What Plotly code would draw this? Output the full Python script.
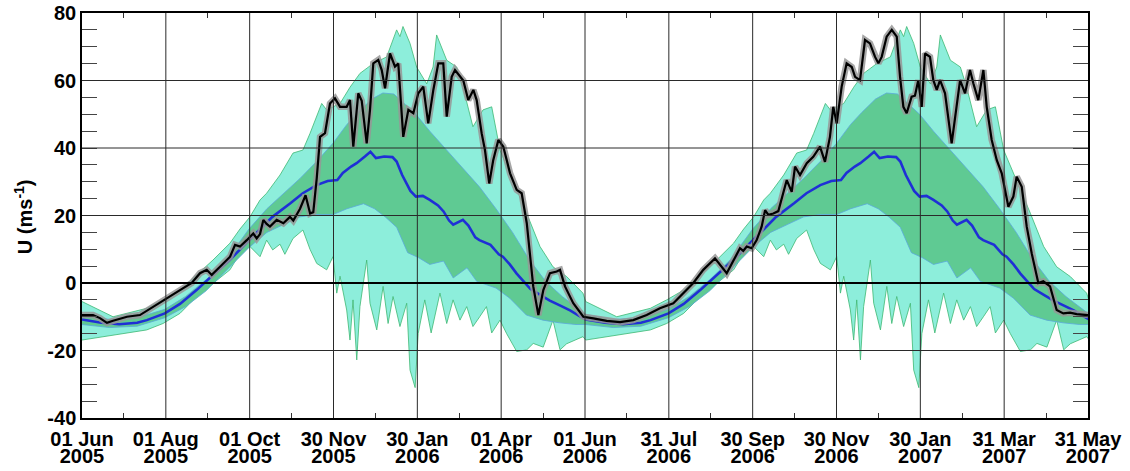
import plotly.graph_objects as go

# ---------------- data ----------------
# x positions are days since 01 Jun 2005
tick_labels = ["01 Jun", "01 Aug", "01 Oct", "30 Nov", "30 Jan", "01 Apr", "01 Jun",
               "31 Jul", "30 Sep", "30 Nov", "30 Jan", "31 Mar", "31 May"]
tick_years = ["2005", "2005", "2005", "2005", "2006", "2006", "2006",
              "2006", "2006", "2006", "2007", "2007", "2007"]
total_days = 729
year_len = 365

# climatology (one annual cycle, repeated for each year)
mean_days = [0, 14, 27, 40, 47, 60, 71, 83, 95, 107, 119, 128, 138, 151, 160, 170, 178, 185,
             189, 195, 199, 205, 209, 213, 219, 225, 228, 232, 238, 242, 247, 252, 258, 262,
             266, 269, 273, 276, 280, 285, 288, 296, 302, 305, 310, 315, 320, 325, 332, 339,
             347, 354, 360, 365]
mean_vals = [-10.8, -11.8, -12.2, -11.8, -11.0, -9.0, -6.2, -2.1, 2.4, 6.8, 11.8, 15.5, 19.6,
             23.6, 26.6, 29.0, 30.2, 30.5, 32.6, 34.5, 35.5, 37.5, 38.9, 37.0, 37.5, 37.3,
             36.0, 32.0, 27.3, 25.6, 25.8, 24.6, 23.0, 21.2, 18.5, 17.3, 18.2, 18.7, 17.0,
             13.5, 12.7, 11.3, 8.5, 7.8, 5.5, 2.8, 0.5, -1.8, -3.5, -5.2, -6.8, -8.2, -9.7,
             -10.8]

inner_hi_days = [0, 20, 40, 60, 75, 90, 105, 121, 134, 146, 158, 170, 182, 192, 200, 210, 218,
                 226, 234, 242, 252, 264, 276, 288, 300, 312, 324, 336, 348, 358, 365]
inner_hi_vals = [-9.3, -10.8, -10.3, -7.8, -4.0, 1.0, 7.0, 16.0, 22.0, 26.5, 31.0, 36.0, 41.5,
                 47.0, 50.5, 54.5, 56.3, 56.0, 53.0, 50.0, 45.0, 39.5, 34.0, 28.5, 22.0, 15.0,
                 7.0, 0.5, -4.0, -7.0, -9.3]

inner_lo_days = [0, 20, 40, 60, 75, 90, 105, 121, 134, 146, 158, 170, 182, 192, 204, 212, 220,
                 228, 236, 244, 252, 262, 269, 279, 286, 300, 310, 322, 334, 346, 358, 365]
inner_lo_vals = [-12.3, -13.2, -12.8, -10.3, -7.0, -2.3, 4.0, 10.5, 15.0, 17.3, 19.6, 20.3,
                 20.3, 22.0, 23.5, 22.0, 19.5, 16.5, 9.0, 7.5, 5.5, 6.5, 1.5, 4.5, 0.5, -1.5,
                 -4.5, -9.5, -11.0, -11.8, -12.3, -12.3]

outer_hi_days = [0, 22.5, 46.9, 58.7, 71, 83.1, 94.9, 107.2, 114.5, 121.7, 129, 133.8, 143.5,
                 152.9, 160.1, 165.2, 170.1, 173.7, 177.3, 187, 194.2, 201.4, 210.9, 220.8,
                 228, 230.4, 232.6, 237.7, 242.5, 249.8, 254.4, 257, 264.3, 271.5, 276.1,
                 283.3, 290.6, 296.9, 302.9, 312.3, 322.3, 331.9, 341.3, 351.2, 363, 365]
outer_hi_vals = [-5.5, -10.0, -7.5, -5.0, -2.1, 2.4, 6.8, 11.8, 16.0, 19.6, 24.6, 26.6, 32.0,
                 38.5, 39.4, 44.3, 49.3, 53.2, 51.3, 53.2, 58.0, 62.1, 65.0, 67.0, 75.0, 73.0,
                 76.0, 71.0, 64.0, 59.0, 64.0, 73.5, 66.0, 64.0, 58.0, 46.3, 51.3, 52.2, 39.4,
                 30.5, 20.6, 10.8, 4.8, 1.9, -3.0, -5.5]

outer_lo_days = [0, 22.5, 46.9, 58.7, 71, 83.1, 94.9, 107.2, 114.5, 121.7, 129, 133.8, 138.2,
                 143.5, 147, 152.9, 160.1, 165.2, 170.1, 177.3, 181.9, 184.6, 187, 191.8,
                 194.2, 196.4, 199.1, 201.4, 206.3, 208.7, 213.6, 218.2, 221.8, 225.4, 230.4,
                 235.3, 237.7, 241.4, 243.6, 248.4, 253, 259.4, 264.3, 268.9, 273.9, 278.8,
                 283.3, 288.2, 293.1, 296.9, 302.9, 307.7, 315, 322.3, 327, 334.2, 341.3,
                 346.4, 351.2, 363, 365]
outer_lo_vals = [-16.9, -15.4, -13.9, -12.0, -9.0, -4.0, 0.0, 3.9, 8.8, 10.8, 7.8, 12.7, 9.8,
                 11.5, 8.5, 13.2, 15.7, 10.0, 5.8, 3.9, 7.8, -3.0, 2.0, -8.0, -16.9, -5.0,
                 -22.8, -7.0, 6.8, -6.0, -13.9, -1.0, -12.0, -4.0, -12.9, -6.0, -25.8, -31.0,
                 -15.0, -5.0, -14.8, -3.0, -12.0, -5.0, -11.0, -7.0, -12.9, -10.0, -7.0,
                 -14.8, -11.0, -15.0, -20.3, -19.8, -17.9, -19.0, -11.0, -19.8, -18.0, -15.9,
                 -16.9]

# observed 2005-2007
obs_days = [0, 8.0, 13.0, 18.1, 22.5, 32.6, 42.0, 51.5, 61.6, 71.0, 79.5, 85.5, 90.4, 94.0,
            100.0, 107.3, 110.9, 114.5, 119.4, 124.1, 126.6, 129.0, 131.4, 133.8, 136.2,
            141.1, 145.9, 150.7, 153.1, 158.0, 162.0, 165.3, 167.6, 170.1, 172.5, 176.1,
            179.7, 183.3, 187.0, 191.8, 194.2, 196.6, 200.2, 202.7, 206.3, 208.7, 211.1,
            214.7, 217.2, 219.6, 223.2, 226.8, 229.2, 232.8, 236.5, 240.1, 243.7, 247.3,
            250.9, 254.6, 258.2, 261.8, 264.3, 267.9, 270.3, 273.9, 276.3, 279.9, 283.6,
            286.0, 289.6, 292.0, 295.1, 298.0, 301.7, 305.3, 310.2, 315.0, 318.6, 322.3,
            327.0, 330.7, 334.3, 339.1, 344.0, 346.4, 350.0, 356.0, 363.3, 370.5, 380.2,
            389.9, 399.5, 409.2, 418.8, 428.5, 435.7, 443.0, 450.2, 455.1, 458.7, 467.2,
            472.0, 476.8, 479.2, 481.7, 485.3, 488.9, 492.5, 495.0, 497.3, 501.0, 504.6,
            508.2, 510.7, 514.3, 516.7, 520.3, 525.2, 529.9, 534.8, 538.4, 542.0, 544.4,
            546.9, 550.5, 554.1, 557.8, 560.2, 563.8, 567.4, 571.0, 574.7, 577.1, 579.5,
            583.1, 586.8, 590.4, 592.8, 595.2, 597.6, 601.2, 603.6, 606.0, 608.5, 610.9,
            614.5, 616.9, 619.4, 621.8, 625.4, 630.2, 633.9, 636.3, 639.9, 643.5, 645.9,
            649.5, 653.2, 655.6, 659.2, 662.9, 666.5, 671.3, 674.9, 677.3, 681.0, 684.6,
            688.2, 693.0, 696.6, 701.5, 706.3, 711.1, 716.0, 720.8, 729]
obs_vals = [-9.5, -9.5, -10.4, -11.8, -11.2, -10.0, -9.5, -7.0, -4.5, -2.1, 0.0, 2.9, 3.9,
            2.4, 4.8, 7.8, 11.3, 10.8, 12.7, 14.7, 13.2, 14.5, 18.7, 17.5, 16.7, 18.7, 17.7,
            19.6, 18.5, 22.0, 26.0, 20.6, 21.0, 31.0, 43.3, 44.4, 53.2, 54.7, 52.2, 52.2,
            54.2, 40.4, 56.2, 54.0, 41.4, 51.3, 65.1, 66.1, 63.1, 57.7, 68.0, 64.1, 65.0,
            43.3, 51.3, 50.3, 56.2, 58.2, 47.3, 57.2, 65.1, 65.1, 49.3, 61.1, 63.1, 61.1,
            60.0, 54.2, 57.2, 54.2, 44.4, 39.4, 29.5, 36.4, 42.4, 40.4, 32.5, 27.6, 26.6,
            17.7, -1.0, -9.5, -2.1, 2.9, 3.4, 3.9, -1.0, -6.0, -10.0, -10.5, -11.2, -11.6,
            -11.0, -9.5, -7.5, -6.0, -3.0, 0.0, 3.9, 5.8, 7.3, 2.9, 6.8, 10.3, 9.5, 10.8,
            10.3, 12.7, 16.7, 21.6, 20.2, 20.6, 21.3, 27.0, 30.5, 27.0, 34.5, 32.0, 35.5,
            37.4, 40.4, 35.9, 43.3, 52.2, 47.3, 58.2, 65.1, 64.0, 61.1, 60.1, 72.0, 71.0,
            67.0, 65.1, 67.0, 73.0, 75.0, 73.0, 61.1, 52.2, 50.3, 55.2, 55.5, 60.1, 52.2,
            68.0, 67.0, 60.1, 57.2, 60.1, 56.2, 41.4, 53.2, 60.1, 56.2, 63.1, 59.2, 54.2,
            63.1, 52.2, 42.4, 36.4, 32.5, 22.6, 25.6, 31.5, 28.5, 16.7, 8.8, 0.0, 0.5, -1.0,
            -8.0, -9.0, -8.8, -9.2, -9.5]

y_range = [-40, 80]
y_major = [-40, -20, 0, 20, 40, 60, 80]

# ---------------- helpers ----------------
def two_years(days, vals):
    d = list(days) + [x + year_len for x in days[1:]]
    v = list(vals) + list(vals[1:])
    return d, v

mx, my = two_years(mean_days, mean_vals)
ihx, ihy = two_years(inner_hi_days, inner_hi_vals)
ilx, ily = two_years(inner_lo_days, inner_lo_vals)
ohx, ohy = two_years(outer_hi_days, outer_hi_vals)
olx, oly = two_years(outer_lo_days, outer_lo_vals)

tick_pos = [i * total_days / 12 for i in range(13)]
minor_pos = [(i + 0.5) * total_days / 12 for i in range(12)]

OUTER_FILL = "#8deedb"
OUTER_EDGE = "#3db872"
INNER_FILL = "#5fca93"
INNER_EDGE = "#5aa8da"

fig = go.Figure()
fig.add_trace(go.Scatter(x=ohx + olx[::-1], y=ohy + oly[::-1], fill="toself",
                         fillcolor=OUTER_FILL, mode="lines",
                         line=dict(color=OUTER_EDGE, width=0.8), hoverinfo="skip",
                         showlegend=False))
fig.add_trace(go.Scatter(x=ihx + ilx[::-1], y=ihy + ily[::-1], fill="toself",
                         fillcolor=INNER_FILL, mode="lines",
                         line=dict(color=INNER_EDGE, width=0.8), hoverinfo="skip",
                         showlegend=False))
fig.add_trace(go.Scatter(x=mx, y=my, mode="lines", line=dict(color="#1f2fd6", width=2.6),
                         showlegend=False))
fig.add_trace(go.Scatter(x=obs_days, y=obs_vals, mode="lines",
                         line=dict(color="rgba(150,150,150,0.85)", width=6.5),
                         showlegend=False, hoverinfo="skip"))
fig.add_trace(go.Scatter(x=obs_days, y=obs_vals, mode="lines",
                         line=dict(color="black", width=2.2), showlegend=False))
# helper trace for the year label axis
fig.add_trace(go.Scatter(x=[tick_pos[0]], y=[y_range[0]], xaxis="x2", mode="markers",
                         marker=dict(opacity=0), showlegend=False, hoverinfo="skip"))

# grid lines drawn above the fills
shapes = []
for xv in tick_pos[1:-1]:
    shapes.append(dict(type="line", xref="x", yref="y", x0=xv, x1=xv, y0=y_range[0],
                       y1=y_range[1], line=dict(color="#2a2a2a", width=1), layer="above"))
for yv in y_major[1:-1]:
    shapes.append(dict(type="line", xref="x", yref="y", x0=0, x1=total_days, y0=yv, y1=yv,
                       line=dict(color="black" if yv == 0 else "#2a2a2a",
                                 width=2 if yv == 0 else 1), layer="above"))

font_bold = dict(family="Liberation Sans, Arial, sans-serif", size=20, color="black",
                 weight="bold")

fig.update_layout(
    width=1130, height=471,
    margin=dict(l=82, r=42, t=13, b=53, autoexpand=False),
    paper_bgcolor="white", plot_bgcolor="white",
    shapes=shapes,
    xaxis=dict(range=[0, total_days], tickmode="array", tickvals=tick_pos,
               ticktext=tick_labels, showgrid=False, zeroline=False, automargin=False,
               ticks="inside", ticklen=0, tickfont=font_bold, ticklabelstandoff=2,
               showline=True, linecolor="black", linewidth=1.5, mirror="ticks",
               minor=dict(tickmode="array", tickvals=minor_pos, ticks="inside", ticklen=5,
                          tickcolor="#333", tickwidth=1, showgrid=False)),
    xaxis2=dict(range=[0, total_days], overlaying="x", side="bottom", anchor="y",
                tickmode="array", tickvals=tick_pos, ticktext=tick_years, automargin=False,
                showgrid=False, zeroline=False, showline=False, ticks="",
                tickfont=font_bold, ticklabelstandoff=24),
    yaxis=dict(range=y_range, tickmode="array", tickvals=y_major,
               ticktext=[str(v) for v in y_major], showgrid=False, zeroline=False,
               automargin=False,
               ticks="inside", ticklen=0, tickfont=font_bold,
               showline=True, linecolor="black", linewidth=1.5, mirror="ticks",
               minor=dict(tickmode="linear", tick0=0, dtick=5, ticks="inside", ticklen=15,
                          tickcolor="#444", tickwidth=1, showgrid=False)),
    annotations=[dict(text="U (ms<sup>-1</sup>)", textangle=-90, xref="paper", yref="paper",
                      x=-0.0586, y=0.496, xanchor="center", yanchor="middle",
                      showarrow=False, font=font_bold)],
)

fig.write_html("out.html", config={"displayModeBar": False},
               post_script="document.body.style.margin='0px';")
